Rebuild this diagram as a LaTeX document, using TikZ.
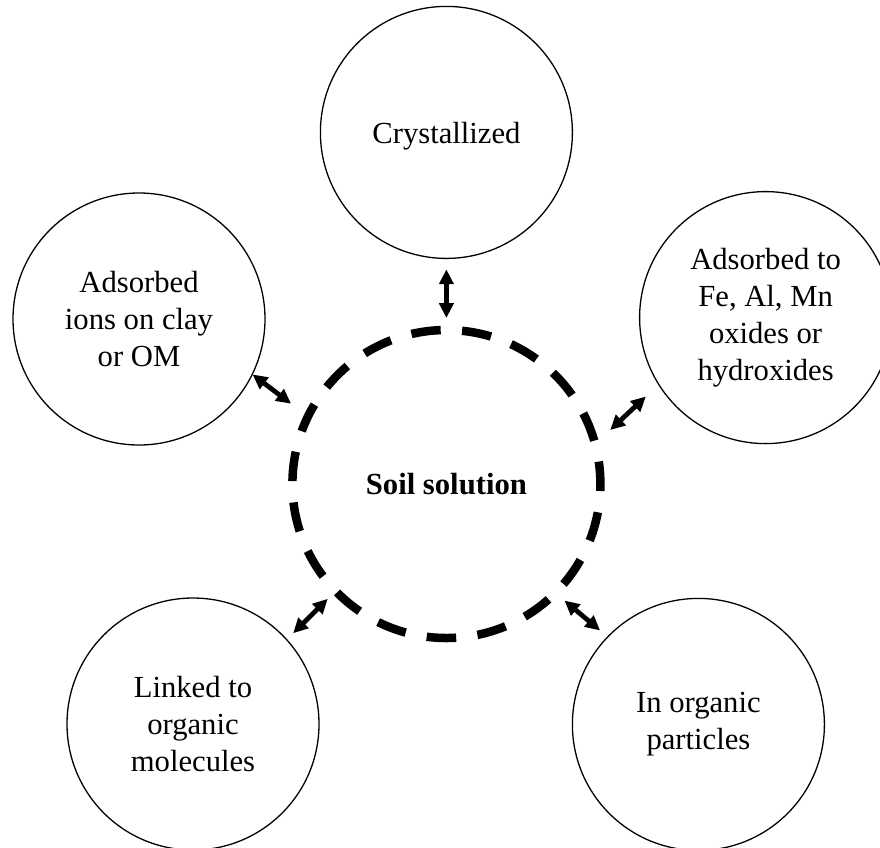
\documentclass[tikz,border=0pt]{standalone}
\usepackage{fontspec}
\setmainfont{Liberation Serif}
\usetikzlibrary{arrows.meta}

\begin{document}
\begin{tikzpicture}[
    pool/.style={circle, draw, line width=0.92pt, minimum size=6.3cm, inner sep=0pt, outer sep=0pt, align=center, font=\fontsize{21.8}{26.3}\selectfont},
    solution/.style={circle, draw, line width=0.2125cm, dash pattern=on 0.7375cm off 0.5358cm, dash phase=0.175cm, minimum size=7.7cm, inner sep=0pt, outer sep=0pt, font=\fontsize{21.8}{26.3}\selectfont\bfseries},
    exchange/.style={{Triangle[length=10.5pt, width=10pt]}-{Triangle[length=10.5pt, width=10pt]}, line width=3.4pt}
]
\useasboundingbox (0, 0) rectangle (22, -21.175);

% Centre
\node[solution] (soil) at (11.16, -12.1) {Soil solution};

% Pools around it
\node[pool, text depth=0pt] (cryst) at (11.16, -3.31) {Crystallized};
\node[pool] (clay) at (3.475, -7.975) {Adsorbed\\ions on clay\\or OM};
\node[pool] (oxides) at (19.14, -7.94) {Adsorbed to\\Fe, Al, Mn\\oxides or\\hydroxides};
\node[pool] (linked) at (4.825, -18.1) {Linked to\\organic\\molecules};
\node[pool] (particles) at (17.46, -18.11) {In organic\\particles};

% Exchange arrows
\draw[exchange, shorten <=0.3cm, shorten >=0.275cm] (soil.90) -- (cryst.-90);
\draw[exchange, shorten <=0.53cm, shorten >=0.01cm] (soil.154) -- (clay.-26.5);
\draw[exchange, shorten <=0.516cm, shorten >=0.443cm] (soil.15.9) -- (oxides.212.1);
\draw[exchange, shorten <=0.278cm, shorten >=0.229cm] (soil.224.3) -- (linked.42.9);
\draw[exchange, shorten <=0.3cm, shorten >=0.25cm] (soil.-45.9) -- (particles.136.3);

\end{tikzpicture}
\end{document}
